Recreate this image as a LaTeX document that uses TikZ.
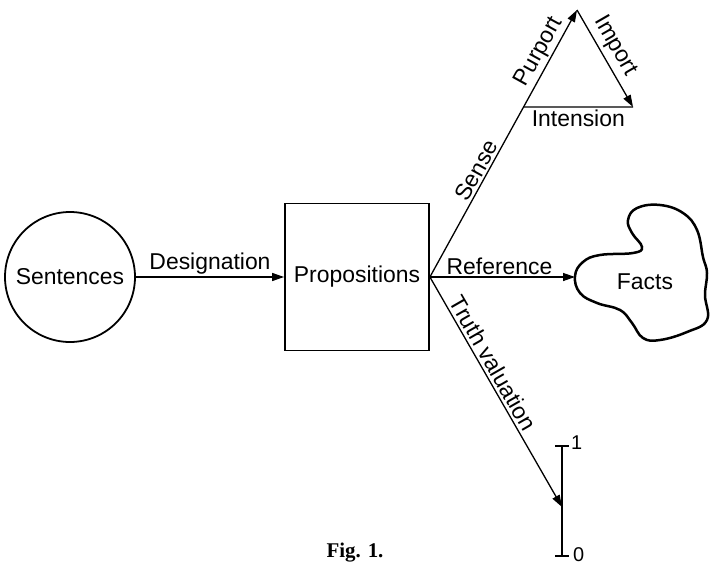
\documentclass[tikz,border=0pt]{standalone}
\usepackage{fontspec}
\setmainfont{Liberation Sans}
\newfontfamily\capfont{Liberation Serif}
\usetikzlibrary{arrows.meta,calc}
\begin{document}
\begin{tikzpicture}[x=1bp,y=-1bp,
  lbl/.style={font=\fontsize{23}{26}\selectfont, inner sep=2bp},
  small/.style={font=\fontsize{20}{22}\selectfont, inner sep=1bp},
  conn/.style={line width=1.3bp},
  arr/.style={conn,-{Triangle[length=12bp,width=8bp]}},
  frame/.style={draw,line width=1.8bp},
]
\useasboundingbox (0,0) rectangle (711,569);
\node[frame,circle,minimum size=130bp,inner sep=0,lbl] (sent) at (70,277) {Sentences};
\node[frame,minimum width=144bp,minimum height=147bp,inner sep=0,lbl] (prop) at (357,277) {Propositions};
\coordinate (apex) at (577,10);
\coordinate (intL) at ($(prop.east)!0.637!(apex)$);
\coordinate (intR) at (633,107);
\coordinate (factsL) at (575,277);
\coordinate (tvTop) at (562,446);
\coordinate (tvBot) at (562,556);
\coordinate (tvHit) at (562,507);

\draw[arr] (sent) -- node[lbl,above] {Designation} (prop);
\draw[arr] (prop.east) -- node[lbl,above,sloped,pos=0.38] {Sense}
                           node[lbl,above,sloped,pos=0.82] {Purport} (apex);
\draw[arr] (apex) -- node[lbl,above,sloped,pos=0.45,inner sep=4bp] {Import} (intR);
\draw[conn] (intL) -- node[lbl,below] {Intension} (intR);
\draw[arr] (prop.east) -- node[lbl,above,pos=0.48] {Reference} (factsL);
\draw[arr] (prop.east) -- node[lbl,above,sloped,pos=0.4,inner sep=3bp] {Truth valuation} (tvHit);

\draw[conn] (tvTop) -- (tvBot);
\draw[conn] ([xshift=-7bp]tvTop) -- ([xshift=7bp]tvTop);
\draw[conn] ([xshift=-7bp]tvBot) -- ([xshift=7bp]tvBot);
\node[small,anchor=west] (one) at (570,443) {1};
\node[small,anchor=west] (zero) at (572,555) {0};

\draw[line width=2.5bp] plot[smooth cycle, tension=0.7] coordinates {
  (575,276) (583,262) (600,255) (633,253) (642,247) (632,233) (628,220)
  (637,208) (660,205) (683,213) (697,230) (703,257) (707,273) (705,295)
  (707,320) (687,332) (660,340) (643,338) (632,323) (620,310) (597,303)
  (580,293)};
\node[lbl] (facts) at (645,282) {Facts};

\node[font=\capfont\bfseries\fontsize{21}{24}\selectfont] (fig) at (355,553) {Fig. 1.};
\end{tikzpicture}
\end{document}
